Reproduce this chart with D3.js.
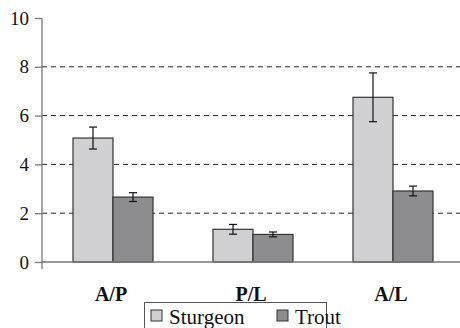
<!DOCTYPE html>
<html>
<head>
<meta charset="utf-8">
<script src="https://cdn.jsdelivr.net/npm/d3@7"></script>
<style>
  body { margin: 0; background: #fff; }
  svg { display: block; }
  svg text { font-family: "Liberation Serif", "Times New Roman", serif; fill: #111; }
</style>
</head>
<body>
<div id="chart"></div>
<script>
// data
var categories = ["A/P", "P/L", "A/L"];
var seriesNames = ["Sturgeon", "Trout"];
var sturgeon = [5.08, 1.34, 6.75];
var sturgeonErr = [0.45, 0.2, 1.0];
var trout = [2.66, 1.13, 2.91];
var troutErr = [0.18, 0.1, 0.2];
var yTicks = [0, 2, 4, 6, 8, 10];

var colors = { "Sturgeon": "#d0d0d2", "Trout": "#8d8d90" };

var width = 460, height = 328;
var svg = d3.select("#chart").append("svg").attr("width", width).attr("height", height);

var plotLeft = 42, plotRight = 462, plotTop = 18, plotBottom = 262;

var x_scale = d3.scaleBand().domain(categories).range([plotLeft, plotRight]).padding(0);
var x_sub = d3.scaleBand().domain(seriesNames).range([31, 111]).padding(0);
var y_scale = d3.scaleLinear().domain([0, 10]).range([plotBottom, plotTop]);

// build rows
var rows = [];
categories.forEach(function (c, i) {
    rows.push({ cat: c, name: "Sturgeon", v: sturgeon[i], e: sturgeonErr[i] });
    rows.push({ cat: c, name: "Trout", v: trout[i], e: troutErr[i] });
});

// dashed gridlines
svg.append("g").selectAll("line")
    .data(yTicks.filter(function (d) { return d > 0 && d < 10; }))
    .enter().append("line")
    .attr("x1", plotLeft).attr("x2", 460)
    .attr("y1", function (d) { return y_scale(d); })
    .attr("y2", function (d) { return y_scale(d); })
    .attr("stroke", "#222")
    .attr("stroke-width", 1)
    .attr("stroke-dasharray", "5,4");

// bars
svg.append("g").selectAll("rect")
    .data(rows)
    .enter().append("rect")
    .attr("x", function (d) { return x_scale(d.cat) + x_sub(d.name); })
    .attr("y", function (d) { return y_scale(d.v); })
    .attr("width", x_sub.bandwidth())
    .attr("height", function (d) { return y_scale(0) - y_scale(d.v); })
    .attr("fill", function (d) { return colors[d.name]; })
    .attr("stroke", "#333")
    .attr("stroke-width", 1.2);

// error bars
var err = svg.append("g").attr("stroke", "#111").attr("stroke-width", 1.2);
rows.forEach(function (d) {
    var cx = x_scale(d.cat) + x_sub(d.name) + x_sub.bandwidth() / 2;
    var y1 = y_scale(d.v + d.e), y2 = y_scale(d.v - d.e);
    err.append("line").attr("x1", cx).attr("x2", cx).attr("y1", y1).attr("y2", y2);
    err.append("line").attr("x1", cx - 4).attr("x2", cx + 4).attr("y1", y1).attr("y2", y1);
    err.append("line").attr("x1", cx - 4).attr("x2", cx + 4).attr("y1", y2).attr("y2", y2);
});

// y axis
var y_axis = d3.axisLeft(y_scale).tickValues(yTicks).tickSize(7).tickPadding(6);
var yg = svg.append("g")
    .attr("transform", "translate(" + plotLeft + ",0)")
    .call(y_axis)
    .attr("font-family", null)
    .attr("font-size", null);
yg.select(".domain").remove();
yg.append("line").attr("x1", 0).attr("x2", 0).attr("y1", plotTop).attr("y2", 269)
    .attr("stroke", "#777").attr("stroke-width", 1.3);
yg.selectAll(".tick line").attr("stroke", "#777").attr("stroke-width", 1.3);
yg.selectAll("text")
    .attr("fill", "#111")
    .style("font-size", "19px");

// x axis
svg.append("line").attr("x1", plotLeft).attr("x2", 460)
    .attr("y1", plotBottom).attr("y2", plotBottom)
    .attr("stroke", "#777").attr("stroke-width", 1.3);
svg.append("g").selectAll("text")
    .data(categories)
    .enter().append("text")
    .attr("x", function (d) { return x_scale(d) + x_scale.bandwidth() / 2 - 1; })
    .attr("y", 301)
    .attr("text-anchor", "middle")
    .style("font-size", "20px")
    .style("font-weight", "bold")
    .text(function (d) { return d; });

// legend
var legend = svg.append("g");
legend.append("rect").attr("x", 144.5).attr("y", 302.5).attr("width", 182).attr("height", 32)
    .attr("fill", "#fff").attr("stroke", "#555").attr("stroke-width", 1);
var lx = [151, 277];
seriesNames.forEach(function (n, i) {
    legend.append("rect").attr("x", lx[i]).attr("y", 310).attr("width", 11).attr("height", 11)
        .attr("fill", colors[n]).attr("stroke", "#333").attr("stroke-width", 1);
    legend.append("text").attr("x", lx[i] + 18).attr("y", 324)
        .style("font-size", "21px")
        .text(n);
});
</script>
</body>
</html>
